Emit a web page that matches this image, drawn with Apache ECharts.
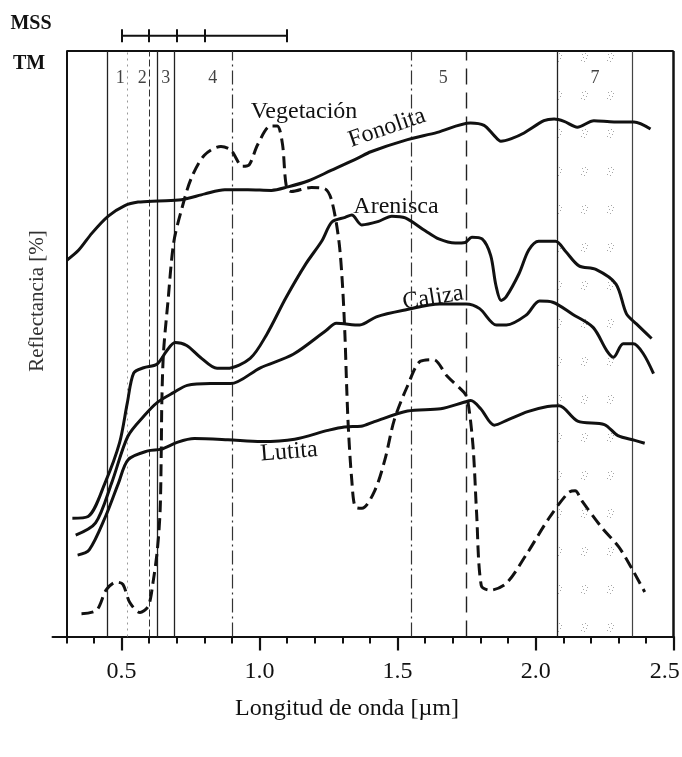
<!DOCTYPE html>
<html>
<head>
<meta charset="utf-8">
<title>Reflectancia</title>
<style>
  html, body { margin: 0; padding: 0; background: #fff; }
  #chart { width: 682px; height: 757px; }
</style>
<script src="https://cdn.jsdelivr.net/npm/echarts@6.0.0/dist/echarts.min.js"></script>
</head>
<body>
<div id="chart"></div>
<script>
// longitud de onda [µm], reflectancia (0 = eje, 100 = borde superior)
var fonolita = [[0.303,64.3],[0.345,66.0],[0.393,68.9],[0.452,71.8],[0.512,73.6],[0.560,74.2],[0.633,74.4],[0.717,74.6],[0.802,75.6],[0.874,76.3],[0.958,76.3],[1.043,76.2],[1.103,76.8],[1.175,77.8],[1.259,79.6],[1.356,81.7],[1.403,82.8],[1.524,84.7],[1.644,86.1],[1.764,87.7],[1.813,87.3],[1.849,85.6],[1.874,84.6],[1.910,85.0],[1.958,86.0],[2.030,88.1],[2.067,88.4],[2.103,88.0],[2.151,87.0],[2.211,88.1],[2.284,87.9],[2.356,87.9],[2.416,86.7]];
var arenisca = [[0.322,20.2],[0.379,20.5],[0.440,26.2],[0.493,33.1],[0.521,39.9],[0.544,45.0],[0.580,45.9],[0.628,46.5],[0.664,48.8],[0.694,50.2],[0.736,49.7],[0.785,47.7],[0.846,45.8],[0.882,45.8],[0.966,47.5],[1.026,51.6],[1.096,57.9],[1.167,63.6],[1.226,67.6],[1.262,70.8],[1.310,71.6],[1.334,72.0],[1.370,70.3],[1.431,70.9],[1.479,71.8],[1.528,71.5],[1.600,69.3],[1.649,67.9],[1.709,67.2],[1.745,67.3],[1.769,68.2],[1.806,67.9],[1.837,65.1],[1.856,60.0],[1.875,57.4],[1.893,58.0],[1.940,62.0],[1.975,66.0],[2.011,67.5],[2.072,67.5],[2.108,65.8],[2.157,63.3],[2.218,62.7],[2.291,60.2],[2.329,55.1],[2.365,53.4],[2.420,50.9]];
var caliza = [[0.334,17.3],[0.406,19.4],[0.464,26.2],[0.523,34.2],[0.582,37.7],[0.630,40.0],[0.690,41.7],[0.738,42.9],[0.822,43.2],[0.895,43.2],[1.003,45.9],[1.122,48.2],[1.242,52.3],[1.278,53.5],[1.363,53.2],[1.423,54.6],[1.531,55.8],[1.652,56.8],[1.748,56.8],[1.797,56.0],[1.858,53.2],[1.894,53.2],[1.966,54.9],[2.014,57.3],[2.062,57.1],[2.135,55.0],[2.208,52.8],[2.258,48.8],[2.282,47.7],[2.317,50.0],[2.354,50.0],[2.390,48.3],[2.427,44.9]];
var lutita = [[0.341,13.9],[0.383,14.8],[0.442,20.5],[0.489,26.2],[0.524,30.2],[0.596,31.7],[0.644,32.0],[0.704,33.2],[0.764,33.8],[0.885,33.6],[1.006,33.3],[1.127,33.7],[1.247,35.2],[1.307,35.8],[1.367,35.9],[1.416,36.7],[1.536,38.5],[1.656,38.9],[1.740,40.0],[1.765,40.3],[1.801,38.9],[1.850,36.1],[1.899,37.0],[1.971,38.4],[2.043,39.3],[2.085,39.4],[2.152,36.8],[2.249,36.2],[2.298,34.3],[2.359,33.5],[2.395,33.0]];
var vegetacion = [[0.355,3.9],[0.410,4.5],[0.445,8.0],[0.481,9.3],[0.505,8.9],[0.530,5.8],[0.567,4.1],[0.597,5.2],[0.614,9.2],[0.630,14.9],[0.640,21.7],[0.644,32.0],[0.646,40.0],[0.652,48.5],[0.668,57.1],[0.689,67.3],[0.718,73.0],[0.752,78.2],[0.800,82.2],[0.860,83.7],[0.896,83.1],[0.939,80.3],[0.963,80.6],[0.993,84.0],[1.040,87.2],[1.064,87.2],[1.083,84.1],[1.097,76.9],[1.115,76.0],[1.188,76.7],[1.236,76.5],[1.261,74.5],[1.287,67.7],[1.300,60.3],[1.309,51.7],[1.316,42.0],[1.322,35.2],[1.334,26.7],[1.347,22.1],[1.371,21.9],[1.418,25.0],[1.454,30.2],[1.488,37.0],[1.535,42.7],[1.582,47.0],[1.630,47.3],[1.679,44.5],[1.740,41.7],[1.753,40.6],[1.773,32.6],[1.786,21.2],[1.803,8.7],[1.834,7.9],[1.894,9.1],[1.965,13.9],[2.048,20.2],[2.119,24.6],[2.143,24.9],[2.167,23.2],[2.238,18.7],[2.301,15.3],[2.352,11.3],[2.395,7.6]];

// bandas TM y MSS
var tmEdges = [0.45, 0.52, 0.60, 0.63, 0.69, 0.90, 1.55, 1.75, 2.08, 2.35];
var tmBands = ['1', '2', '3', '4', '5', '7'];
var tmBandCentres = [0.495, 0.575, 0.66, 0.83, 1.665, 2.215];
var mssEdges = [0.5, 0.6, 0.7, 0.8, 1.1];
var band7 = [2.08, 2.35];

// eje x
var xMajor = [0.5, 1.0, 1.5, 2.0, 2.5];
var xMinor = [];
for (var i = 3; i <= 25; i++) xMinor.push(i / 10);

var serif = '"Liberation Serif", "DejaVu Serif", serif';
var chart = echarts.init(document.getElementById('chart'));

// trama punteada de la banda 7
function stipple() {
  var c = document.createElement('canvas');
  c.width = 26; c.height = 38;
  var g = c.getContext('2d');
  g.fillStyle = 'rgba(0,0,0,0.35)';
  [[10, 16], [13, 15], [11, 19], [14, 20], [9, 22], [12, 23], [15, 17]].forEach(function (p) {
    g.fillRect(p[0], p[1], 1, 1);
  });
  return c;
}

// estilo de cada linea de banda
function edgeLine(x) {
  var st = { color: '#222', width: 1.3, type: 'solid' };
  if (x === 0.52) st = { color: '#999', width: 1, type: [2, 4] };
  if (x === 0.60) st = { color: '#333', width: 1, type: [7, 3] };
  if (x === 0.90 || x === 1.55) st = { color: '#333', width: 1.2, type: [14, 4, 2, 4] };
  if (x === 1.75) st = { color: '#222', width: 1.4, type: [16, 8] };
  if (x === 2.35) st = { color: '#444', width: 1.2, type: 'solid' };
  return [{ coord: [x, 0], lineStyle: st }, { coord: [x, 100] }];
}

function curve(name, data, dashed) {
  return {
    name: name, type: 'line', data: data, xAxisIndex: 0, yAxisIndex: 0,
    smooth: 0.3, symbol: 'none', silent: true, z: 5,
    lineStyle: { color: '#111', width: 3, type: dashed ? [12, 6] : 'solid' }
  };
}

var frameLines = tmEdges.map(edgeLine);
frameLines.push([{ coord: [0.3, 0], lineStyle: { color: '#111', width: 2, type: 'solid' } }, { coord: [0.3, 100] }]);
frameLines.push([{ coord: [2.5, 0], lineStyle: { color: '#111', width: 2.5, type: 'solid' } }, { coord: [2.5, 100] }]);

var mssTicks = mssEdges.map(function (x) {
  return [{ coord: [x, 101.5] }, { coord: [x, 103.7] }];
});

var option = {
  animation: false,
  backgroundColor: '#fff',
  grid: { left: 52.5, right: 8.3, top: 4.2, bottom: 120.5, outerBoundsMode: 'none', containLabel: false },
  xAxis: [
    {
      type: 'value', min: 0.25, max: 2.5,
      axisLine: { lineStyle: { color: '#111', width: 2 } },
      axisTick: { customValues: xMinor, length: 7, lineStyle: { color: '#111', width: 2 } },
      axisLabel: { show: false },
      splitLine: { show: false }
    },
    {
      type: 'value', min: 0.25, max: 2.5, position: 'bottom',
      axisLine: { show: false },
      axisTick: { customValues: xMajor, length: 14, lineStyle: { color: '#111', width: 2.2 } },
      axisLabel: {
        customValues: xMajor, margin: 23, hideOverlap: false,
        formatter: function (v) {
          return v === 2.5 ? '{last|' + v.toFixed(1) + '}' : v.toFixed(1);
        },
        rich: { last: { fontFamily: serif, fontSize: 24, color: '#111', padding: [0, 18, 0, 0] } },
        fontFamily: serif, fontSize: 24, color: '#111'
      },
      splitLine: { show: false }
    }
  ],
  yAxis: {
    type: 'value', min: 0, max: 108,
    axisLine: { show: false }, axisTick: { show: false },
    axisLabel: { show: false }, splitLine: { show: false }
  },
  series: [
    {
      // marco superior, lineas de bandas TM y banda 7 punteada
      type: 'line', xAxisIndex: 0, silent: true, symbol: 'none',
      data: [[0.3, 100], [2.5, 100]],
      lineStyle: { color: '#111', width: 2 },
      markLine: { silent: true, symbol: ['none', 'none'], label: { show: false }, data: frameLines },
      markArea: {
        silent: true,
        itemStyle: { color: { image: stipple(), repeat: 'repeat' } },
        data: [[{ xAxis: band7[0], yAxis: 0 }, { xAxis: band7[1], yAxis: 100 }]]
      }
    },
    {
      // barra MSS
      type: 'line', xAxisIndex: 0, silent: true, symbol: 'none',
      data: [[mssEdges[0], 102.6], [mssEdges[mssEdges.length - 1], 102.6]],
      lineStyle: { color: '#111', width: 2 },
      markLine: { silent: true, symbol: ['none', 'none'], label: { show: false },
        lineStyle: { color: '#111', width: 2, type: 'solid' }, data: mssTicks }
    },
    {
      // numeros de bandas TM
      type: 'scatter', xAxisIndex: 0, silent: true, symbolSize: 1,
      itemStyle: { color: 'rgba(0,0,0,0)' },
      data: tmBands.map(function (b, k) { return [tmBandCentres[k], 95.3, b]; }),
      label: { show: true, position: 'inside', formatter: function (p) { return p.data[2]; },
        fontFamily: serif, fontSize: 18, color: '#111' }
    },
    curve('Fonolita', fonolita, false),
    curve('Arenisca', arenisca, false),
    curve('Caliza', caliza, false),
    curve('Lutita', lutita, false),
    curve('Vegetación', vegetacion, true)
  ],
  graphic: [
    { type: 'text', x: 31, y: 24, style: { text: 'MSS', font: 'bold 20px ' + serif, fill: '#111', align: 'center', verticalAlign: 'middle' } },
    { type: 'text', x: 29, y: 64, style: { text: 'TM', font: 'bold 20px ' + serif, fill: '#111', align: 'center', verticalAlign: 'middle' } },
    { type: 'text', x: 37, y: 301, rotation: Math.PI / 2, style: { text: 'Reflectancia [%]', font: '21px ' + serif, fill: '#333', align: 'center', verticalAlign: 'middle' } },
    { type: 'text', x: 347, y: 709, style: { text: 'Longitud de onda [µm]', font: '24px ' + serif, fill: '#111', align: 'center', verticalAlign: 'middle' } },
    { type: 'text', x: 304, y: 112, style: { text: 'Vegetación', font: '24px ' + serif, fill: '#111', align: 'center', verticalAlign: 'middle' } },
    { type: 'text', x: 387, y: 128, rotation: 0.33, style: { text: 'Fonolita', font: '24px ' + serif, fill: '#111', align: 'center', verticalAlign: 'middle' } },
    { type: 'text', x: 396, y: 207, style: { text: 'Arenisca', font: '24px ' + serif, fill: '#111', align: 'center', verticalAlign: 'middle' } },
    { type: 'text', x: 433, y: 298, rotation: 0.16, style: { text: 'Caliza', font: '24px ' + serif, fill: '#111', align: 'center', verticalAlign: 'middle' } },
    { type: 'text', x: 289, y: 452, rotation: 0.08, style: { text: 'Lutita', font: '24px ' + serif, fill: '#111', align: 'center', verticalAlign: 'middle' } }
  ]
};

chart.setOption(option);
</script>
</body>
</html>
